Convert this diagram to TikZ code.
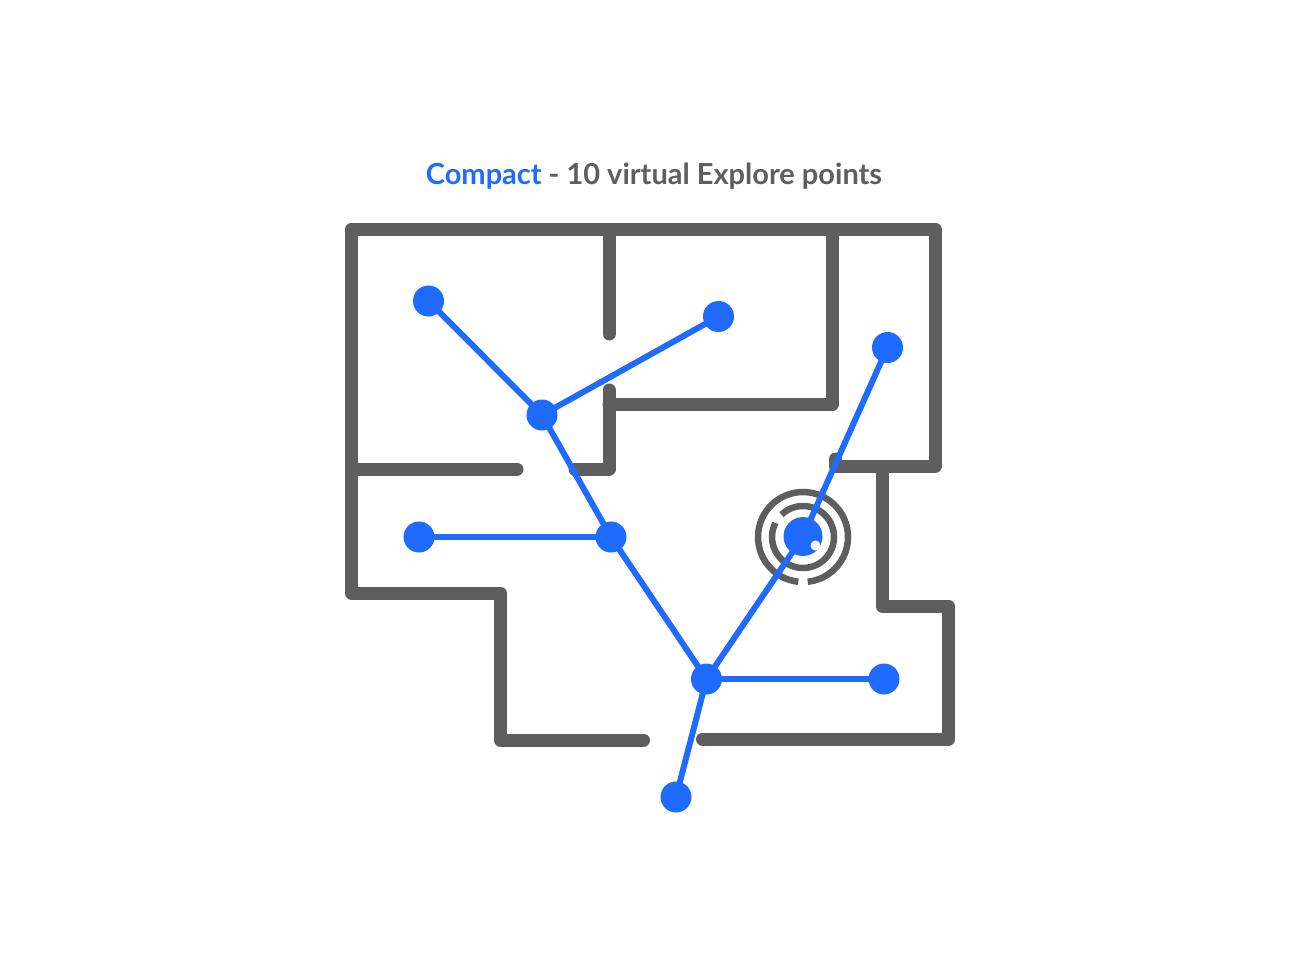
\documentclass[tikz,border=0pt]{standalone}
\usepackage{fontspec}
\setmainfont{Lato}
\definecolor{wall}{HTML}{5E5E5E}
\definecolor{route}{HTML}{1F6BFF}
\tikzset{
  wallline/.style={draw=wall,line width=13,line cap=round,line join=round},
  mazeline/.style={draw=wall,line width=6.5},
  link/.style={draw=route,line width=6,shorten <=-3pt,shorten >=-3pt},
  vpoint/.style={circle,fill=route,inner sep=0,minimum size=31},
}
\begin{document}
\begin{tikzpicture}[x=1pt,y=-1pt,line width=1pt]
\useasboundingbox (0,0) rectangle (1300,974);
\fill[white] (0,0) rectangle (1300,974);
\node[font=\fontsize{29}{34}\selectfont\bfseries,text=wall,inner sep=0] (title) at (654,176) {\textcolor{route}{Compact} - 10 virtual Explore points};
% walls
\draw[wallline] (643.5,740) -- (500.5,740) -- (500.5,593) -- (351.5,593) -- (351.5,229) -- (935,229) -- (935,466) -- (835.5,466) -- (835.5,459);
\draw[wallline] (609,232) -- (609,334);
\draw[wallline] (832.5,232) -- (832.5,404.5) -- (609,404.5);
\draw[wallline] (609,390) -- (609,469) -- (575,469);
\draw[wallline] (355,469) -- (517,469);
\draw[wallline] (882,469) -- (882,606) -- (948.5,606) -- (948.5,739) -- (702.5,739);
% maze
\draw[mazeline] (803,537) ++(96:45) arc (96:444:45);
\draw[mazeline] (803,537) ++(226:31) arc (226:567:31);
% points
\node[vpoint] (a) at (428.5,301) {};
\node[vpoint] (b) at (718.5,316.5) {};
\node[vpoint] (c) at (542,415) {};
\node[vpoint] (d) at (887.5,347.5) {};
\node[vpoint] (e) at (419,537) {};
\node[vpoint] (f) at (611,537) {};
\node[vpoint,minimum size=39] (g) at (803,536.5) {};
\node[vpoint] (h) at (706.5,679) {};
\node[vpoint] (i) at (884,679) {};
\node[vpoint] (j) at (676,797) {};
\fill[white] (815.5,545.5) circle (5);
\draw[link] (a) -- (c);
\draw[link] (b) -- (c);
\draw[link] (c) -- (f);
\draw[link] (e) -- (f);
\draw[link] (f) -- (h);
\draw[link] (d) -- (g);
\draw[link] (g) -- (h);
\draw[link] (h) -- (i);
\draw[link] (h) -- (j);
\end{tikzpicture}
\end{document}
